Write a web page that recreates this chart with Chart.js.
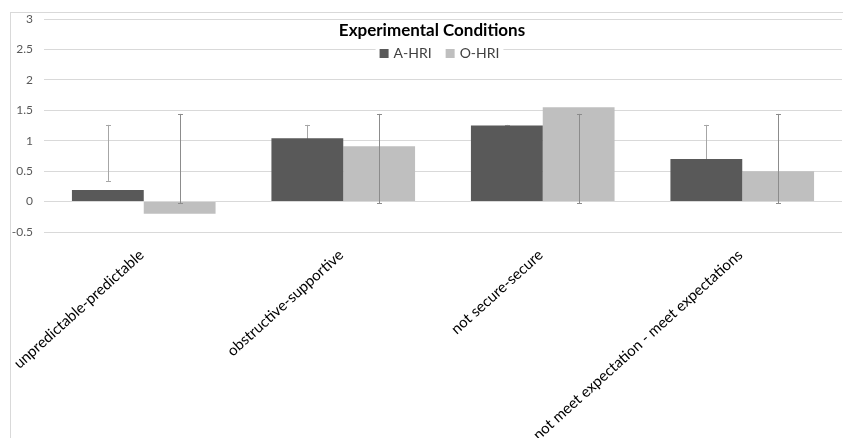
<!DOCTYPE html>
<html>
<head>
<meta charset="utf-8">
<script src="https://cdn.jsdelivr.net/npm/chart.js@4"></script>
<style>
  html, body { margin: 0; padding: 0; background: #fff; }
  #wrap { position: relative; width: 843px; height: 438px; }
  #frame { position: absolute; left: 10px; top: 12px; right: -2px; bottom: -2px;
           border-left: 1px solid #d9d9d9; border-top: 1px solid #d9d9d9; }
  canvas { position: absolute; left: 0; top: 0; }
</style>
</head>
<body>
<div id="wrap">
  <div id="frame"></div>
  <canvas id="chart" width="843" height="438"></canvas>
</div>
<script>
// data
const categories = ["unpredictable-predictable", "obstructive-supportive", "not secure-secure", "not meet expectation - meet expectations"];
const seriesNames = ["A-HRI", "O-HRI"];
const aHri = [0.19, 1.04, 1.25, 0.70];
const oHri = [-0.20, 0.91, 1.55, 0.50];
// error bar ends (low, high)
const aErrLow = [0.34, 0.82, 1.24, 0.14];
const aErrHigh = [1.26, 1.26, 1.26, 1.26];
const oErrLow = [-0.03, -0.03, -0.03, -0.03];
const oErrHigh = [1.44, 1.44, 1.44, 1.44];
const yTicks = [-0.5, 0, 0.5, 1, 1.5, 2, 2.5, 3];
const legendTitle = "Experimental Conditions";
const colors = ['#595959', '#bfbfbf'];
const FONT = 'Lato, Carlito, "Liberation Sans", sans-serif';

function drawErr(chart, dsIndex, lows, highs, color) {
  const ctx = chart.ctx;
  const y = chart.scales.y;
  const meta = chart.getDatasetMeta(dsIndex);
  ctx.save();
  ctx.strokeStyle = color;
  ctx.lineWidth = 1;
  meta.data.forEach((bar, i) => {
    const x = Math.round(bar.x) + 0.5;
    const y1 = y.getPixelForValue(lows[i]);
    const y2 = y.getPixelForValue(highs[i]);
    ctx.beginPath();
    ctx.moveTo(x, y1); ctx.lineTo(x, y2);
    ctx.moveTo(x - 2.5, Math.round(y1) + 0.5); ctx.lineTo(x + 2.5, Math.round(y1) + 0.5);
    ctx.moveTo(x - 2.5, Math.round(y2) + 0.5); ctx.lineTo(x + 2.5, Math.round(y2) + 0.5);
    ctx.stroke();
  });
  ctx.restore();
}

const errorBars = {
  id: 'errorBars',
  beforeDatasetsDraw(chart) {
    drawErr(chart, 0, aErrLow, aErrHigh, '#a6a6a6');
  },
  afterDatasetsDraw(chart) {
    drawErr(chart, 1, oErrLow, oErrHigh, '#8c8c8c');
  }
};

// legend drawn inside the plot, like the excel one
const insideLegend = {
  id: 'insideLegend',
  afterDraw(chart) {
    const ctx = chart.ctx;
    ctx.save();
    ctx.font = 'bold 17px ' + FONT;
    ctx.textBaseline = 'middle';
    ctx.textAlign = 'center';
    const tw = ctx.measureText(legendTitle).width;
    ctx.fillStyle = '#fff';
    ctx.fillRect(432 - tw / 2 - 3, 21, tw + 6, 20);
    ctx.fillStyle = '#000';
    ctx.fillText(legendTitle, 432, 31);

    ctx.font = '14px ' + FONT;
    ctx.textAlign = 'left';
    const box = 9, gap = 5, between = 14;
    const widths = seriesNames.map(n => ctx.measureText(n).width);
    const total = widths.reduce((s, w) => s + box + gap + w, 0) + between;
    let x = 439.5 - total / 2;
    ctx.fillStyle = '#fff';
    ctx.fillRect(x - 4, 43, total + 8, 20);
    seriesNames.forEach((n, i) => {
      ctx.fillStyle = colors[i];
      ctx.fillRect(x, 49, box, box);
      ctx.fillStyle = '#404040';
      ctx.fillText(n, x + box + gap, 53.5);
      x += box + gap + widths[i] + between;
    });
    ctx.restore();
  }
};

Chart.defaults.font.family = FONT;

new Chart(document.getElementById('chart'), {
  type: 'bar',
  data: {
    labels: categories,
    datasets: [
      { label: seriesNames[0], data: aHri, backgroundColor: colors[0],
        categoryPercentage: 0.72, barPercentage: 1 },
      { label: seriesNames[1], data: oHri, backgroundColor: colors[1],
        categoryPercentage: 0.72, barPercentage: 1 }
    ]
  },
  options: {
    responsive: false,
    animation: false,
    layout: { padding: { top: 19, right: 1, left: 0, bottom: 0 } },
    plugins: {
      tooltip: { enabled: false },
      legend: { display: false }
    },
    scales: {
      x: {
        grid: { display: false },
        border: { display: false },
        ticks: { maxRotation: 42, minRotation: 42, color: '#000', font: { size: 15 },
                 padding: 6, labelOffset: -2 },
        afterFit(s) { s.height = 206; }
      },
      y: {
        min: -0.5, max: 3,
        afterBuildTicks(s) { s.ticks = yTicks.map(v => ({ value: v })); },
        grid: { color: '#d9d9d9', drawTicks: false },
        border: { display: false },
        ticks: { color: '#595959', font: { size: 12 }, padding: 11,
                 callback: v => String(v) },
        afterFit(s) { s.width = 44; }
      }
    }
  },
  plugins: [errorBars, insideLegend]
});
</script>
</body>
</html>
